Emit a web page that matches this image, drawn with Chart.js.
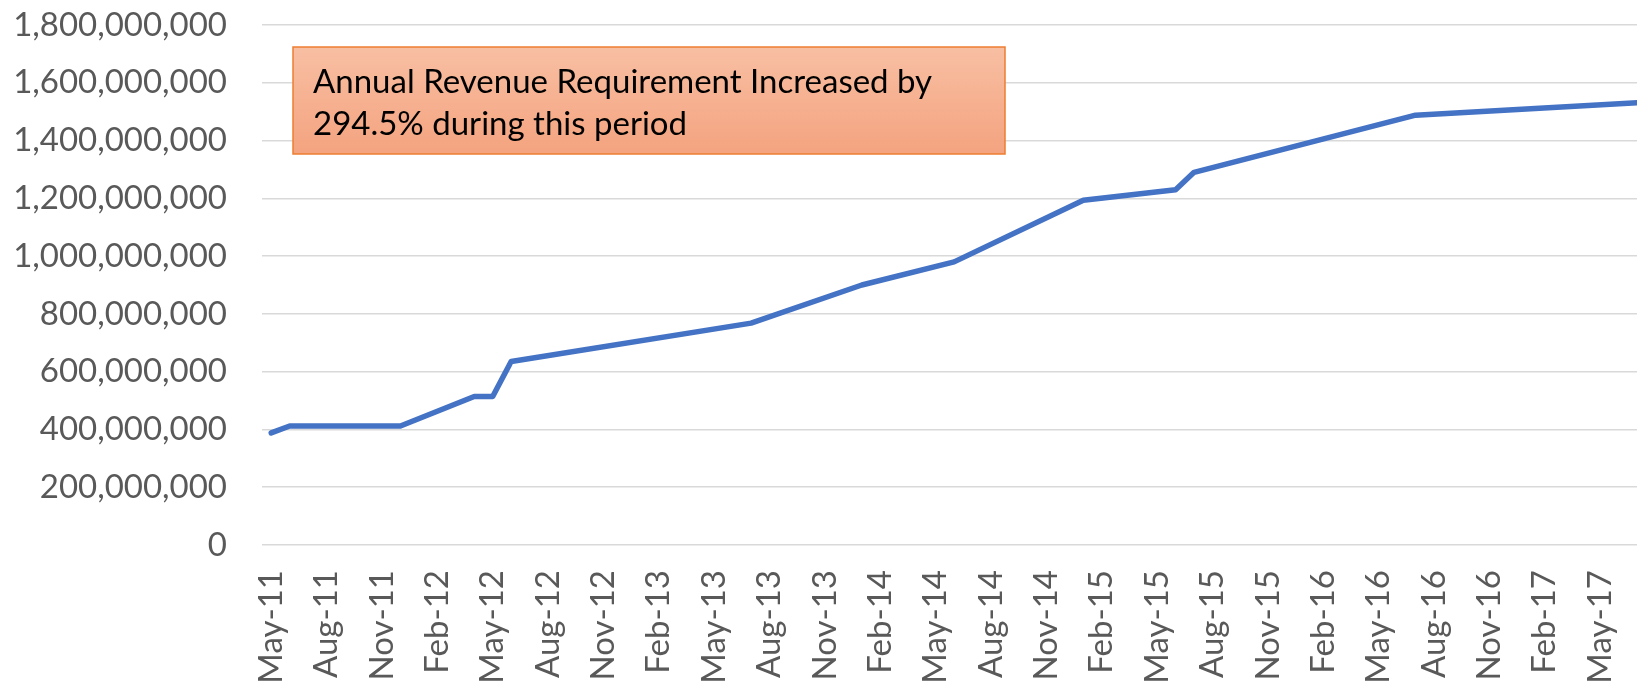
<!DOCTYPE html>
<html>
<head>
<meta charset="utf-8">
<script src="https://cdn.jsdelivr.net/npm/chart.js@4/dist/chart.umd.min.js"></script>
<style>
  html, body { margin: 0; padding: 0; background: #fff; }
  #wrap { width: 1637px; height: 684px; }
</style>
</head>
<body>
<div id="wrap"><canvas id="myChart" width="1637" height="684"></canvas></div>
<script>
// months counted from May-11 (0 = May-11, 74 = Jul-17)
const pointMonths = [0, 1, 7, 11, 12, 13, 26, 32, 37, 44, 49, 50, 62, 74];
const revenue = [388e6, 412e6, 412e6, 514e6, 514e6, 635e6, 768e6, 900e6, 980e6, 1193e6, 1230e6, 1290e6, 1488e6, 1531e6];

// one label every 3 months
const tickLabels = ['May-11', 'Aug-11', 'Nov-11', 'Feb-12', 'May-12', 'Aug-12', 'Nov-12', 'Feb-13', 'May-13',
  'Aug-13', 'Nov-13', 'Feb-14', 'May-14', 'Aug-14', 'Nov-14', 'Feb-15', 'May-15', 'Aug-15', 'Nov-15',
  'Feb-16', 'May-16', 'Aug-16', 'Nov-16', 'Feb-17', 'May-17'];

const noteLines = ['Annual Revenue Requirement Increased by', '294.5% during this period'];

const FONT = 'Lato, "Open Sans", sans-serif';
const GREY = '#595959';

// orange note box drawn on top of the plot
const noteBox = {
  id: 'noteBox',
  afterDraw(chart) {
    const ctx = chart.ctx;
    const x = 293, y = 47, w = 712, h = 107;
    ctx.save();
    const grad = ctx.createLinearGradient(0, y, 0, y + h);
    grad.addColorStop(0, '#F8BFA3');
    grad.addColorStop(1, '#F4A37F');
    ctx.fillStyle = grad;
    ctx.fillRect(x, y, w, h);
    ctx.strokeStyle = '#ED7D31';
    ctx.lineWidth = 1.5;
    ctx.strokeRect(x, y, w, h);
    ctx.fillStyle = '#000';
    ctx.font = '33px ' + FONT;
    ctx.textBaseline = 'alphabetic';
    ctx.fillText(noteLines[0], 313, 93);
    ctx.fillText(noteLines[1], 313, 135);
    ctx.restore();
  }
};

new Chart(document.getElementById('myChart').getContext('2d'), {
  type: 'line',
  data: {
    datasets: [{
      label: 'Annual Revenue Requirement',
      data: pointMonths.map((m, i) => ({ x: m, y: revenue[i] })),
      borderColor: '#4472C4',
      borderWidth: 5.5,
      borderCapStyle: 'round',
      borderJoinStyle: 'round',
      pointRadius: 0,
      tension: 0,
      fill: false
    }]
  },
  options: {
    responsive: false,
    animation: false,
    layout: { padding: { top: 25, right: 0, left: 0, bottom: 0 } },
    plugins: {
      legend: { display: false },
      tooltip: { enabled: false }
    },
    scales: {
      x: {
        type: 'linear',
        min: -0.5,
        max: 74,
        grid: { display: false, drawTicks: false },
        border: { display: false },
        afterBuildTicks: (scale) => {
          scale.ticks = tickLabels.map((l, i) => ({ value: i * 3 }));
        },
        afterFit: (scale) => {
          scale.height = 139;
          scale.paddingLeft = 0;
          scale.paddingRight = 0;
        },
        ticks: {
          autoSkip: false,
          maxRotation: 90,
          minRotation: 90,
          padding: 25,
          color: GREY,
          font: { family: FONT, size: 33 },
          callback: (v) => tickLabels[Math.round(v / 3)]
        }
      },
      y: {
        min: 0,
        max: 1800000000,
        grid: { color: '#D9D9D9', lineWidth: 1.5, drawTicks: false },
        border: { display: false },
        afterFit: (scale) => {
          scale.width = 262;
          scale.paddingTop = 0;
          scale.paddingBottom = 0;
        },
        ticks: {
          stepSize: 200000000,
          padding: 35,
          color: GREY,
          font: { family: FONT, size: 33 },
          callback: (v) => v.toLocaleString('en-US')
        }
      }
    }
  },
  plugins: [noteBox]
});
</script>
</body>
</html>
